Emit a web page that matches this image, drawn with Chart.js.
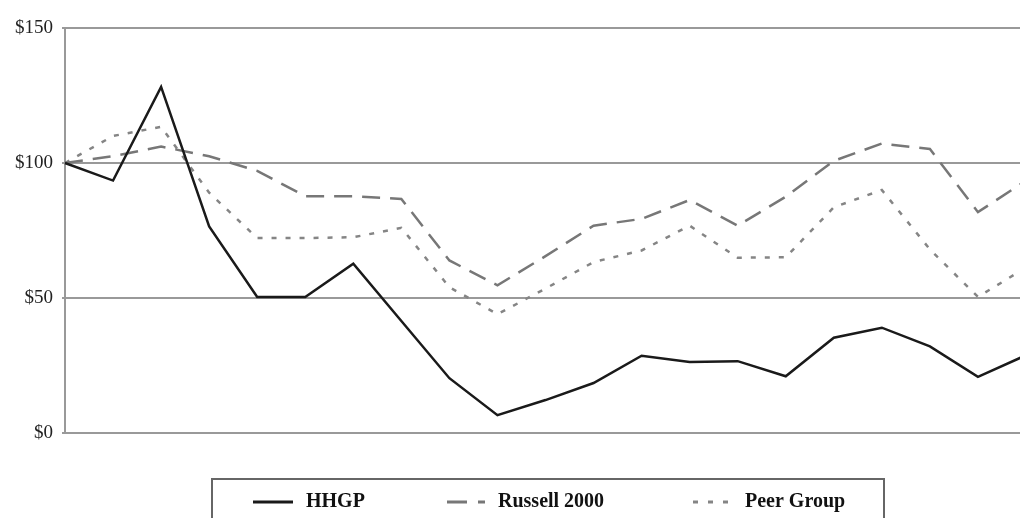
<!DOCTYPE html>
<html>
<head>
<meta charset="utf-8">
<title>HHGP vs Russell 2000 vs Peer Group</title>
<script src="https://cdn.jsdelivr.net/npm/chart.js@4/dist/chart.umd.min.js"></script>
<style>
    html, body { margin: 0; padding: 0; background: #fff; overflow: hidden; width: 1020px; height: 518px; }
    #chart { display: block; }
</style>
</head>
<body>
<canvas id="chart" width="1040" height="518"></canvas>
<script>
// Periods (no labels shown on the x axis)
const periods = ['1', '2', '3', '4', '5', '6', '7', '8', '9', '10', '11', '12', '13', '14', '15', '16', '17', '18', '19', '20', '21'];

// Values ($ value of $100 invested)
const hhgp = [100, 93.5, 128.2, 76.5, 50.4, 50.4, 62.7, 41.5, 20.3, 6.6, 12.2, 18.5, 28.6, 26.3, 26.6, 21.0, 35.3, 39.0, 32.1, 20.8, 28.8];
const russell2000 = [100, 102.5, 106.1, 102.5, 97.1, 87.7, 87.7, 86.7, 63.9, 54.7, 65.5, 76.8, 79.3, 86.3, 76.8, 87.5, 100.8, 107.2, 105.2, 81.8, 93.5];
const peerGroup = [100, 110, 113.4, 89, 72.2, 72.2, 72.5, 76, 54, 44, 53.5, 63.3, 67.6, 76.8, 64.9, 65.1, 83.6, 90, 68, 50.4, 61.3];

const yTicks = [0, 50, 100, 150];

// Legend drawn in a box under the plot
const boxLegend = {
    id: 'boxLegend',
    afterDraw(chart) {
        const ctx = chart.ctx;
        ctx.save();
        ctx.strokeStyle = '#666';
        ctx.lineWidth = 2;
        ctx.strokeRect(212, 479, 672, 80);

        const items = [
            { x: 253, len: 40, textX: 306, dash: [] },
            { x: 447, len: 38, textX: 498, dash: [20, 11] },
            { x: 693, len: 37, textX: 745, dash: [5, 10] }
        ];
        const y = 502;
        chart.data.datasets.forEach((ds, i) => {
            const it = items[i];
            ctx.beginPath();
            ctx.setLineDash(it.dash);
            ctx.strokeStyle = ds.borderColor;
            ctx.lineWidth = 3;
            ctx.moveTo(it.x, y);
            ctx.lineTo(it.x + it.len, y);
            ctx.stroke();
            ctx.setLineDash([]);
            ctx.fillStyle = '#111';
            ctx.font = 'bold 20px "Liberation Serif", "DejaVu Serif", serif';
            ctx.textBaseline = 'middle';
            ctx.textAlign = 'left';
            ctx.fillText(ds.label, it.textX, y);
        });
        ctx.restore();
    }
};

const ctx = document.getElementById('chart').getContext('2d');
new Chart(ctx, {
    type: 'line',
    data: {
        labels: periods,
        datasets: [
            {
                label: 'HHGP',
                data: hhgp,
                borderColor: '#1a1a1a',
                borderWidth: 2.5,
                pointRadius: 0,
                tension: 0
            },
            {
                label: 'Russell 2000',
                data: russell2000,
                borderColor: '#777777',
                borderWidth: 2.5,
                borderDash: [18, 10],
                pointRadius: 0,
                tension: 0
            },
            {
                label: 'Peer Group',
                data: peerGroup,
                borderColor: '#858585',
                borderWidth: 2.5,
                borderDash: [5, 9],
                pointRadius: 0,
                tension: 0
            }
        ]
    },
    options: {
        responsive: false,
        animation: false,
        layout: {
            padding: { left: 0, right: 14, top: 28, bottom: 85 }
        },
        plugins: {
            legend: { display: false },
            tooltip: { enabled: false }
        },
        scales: {
            x: {
                display: false,
                offset: false
            },
            y: {
                min: 0,
                max: 150,
                afterBuildTicks: (scale) => {
                    scale.ticks = yTicks.map(v => ({ value: v }));
                },
                afterFit: (scale) => {
                    scale.width = 65;
                },
                border: { display: true, color: '#999', width: 2 },
                grid: {
                    color: '#999',
                    lineWidth: 2,
                    drawTicks: true,
                    tickLength: 3
                },
                ticks: {
                    padding: 9,
                    color: '#222',
                    font: { family: '"Liberation Serif", "DejaVu Serif", serif', size: 19 },
                    callback: (v) => '$' + v
                }
            }
        }
    },
    plugins: [boxLegend]
});
</script>
</body>
</html>
